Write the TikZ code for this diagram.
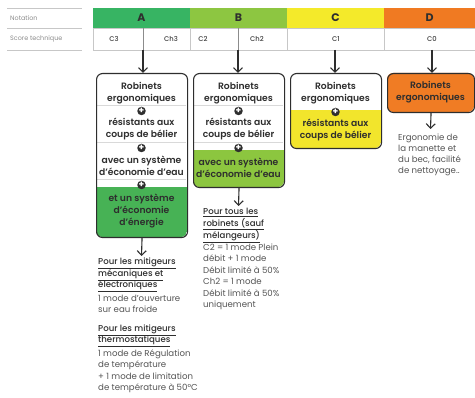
\documentclass[tikz,border=0pt]{standalone}
\usepackage{fontspec}
\setmainfont{Poppins}[BoldFont={Poppins SemiBold}]
\newfontfamily\medfont{Poppins Medium}
\newfontfamily\heavyfont{Poppins Bold}
\usetikzlibrary{arrows.meta}
\definecolor{hA}{HTML}{37B463}
\definecolor{hB}{HTML}{8DC641}
\definecolor{hC}{HTML}{F4EA2A}
\definecolor{hD}{HTML}{F07A22}
\definecolor{fA}{HTML}{47B255}
\definecolor{fB}{HTML}{8CC63F}
\definecolor{fC}{HTML}{F2E52C}
\definecolor{fD}{HTML}{F07C24}
\definecolor{ink}{HTML}{2E2E2E}
\definecolor{body}{HTML}{555555}
\begin{document}
\begin{tikzpicture}[x=1pt,y=-1pt,
  hdr/.style={minimum width=97pt, minimum height=20pt, inner sep=0, font=\fontsize{11}{11}\selectfont\heavyfont, text=ink},
  sc/.style={font=\fontsize{6.8}{7}\selectfont\medfont, text=black!75, inner sep=0},
  lbl/.style={font=\fontsize{6.4}{7}\selectfont, text=black!45, inner sep=0, anchor=west},
  gl/.style={draw=black!22, line width=0.6pt},
  sep/.style={draw=black!15, line width=0.6pt},
  box/.style={draw=ink, line width=1.1pt, rounded corners=6pt, inner sep=0},
  bt/.style={font=\fontsize{9.2}{12}\selectfont\bfseries, text=ink, align=center, inner sep=0},
  plus/.style={circle, fill=ink, minimum size=8.5pt, inner sep=0, text=white,
    font=\fontsize{9}{9}\selectfont\heavyfont},
  arr/.style={-{Straight Barb[length=4.5pt,width=9pt]}, line width=1.1pt, draw=ink},
  note/.style={font=\fontsize{8.6}{11.5}\selectfont, text=body, align=left, inner sep=0, anchor=north west},
]
\useasboundingbox (0,0) rectangle (475,398);
\fill[white] (0,0) rectangle (475,398);

% left labels
\draw[gl] (7,8) -- (82,8) (7,28) -- (82,28) (7,50) -- (82,50);
\node[lbl] (notation) at (10,18) {Notation};
\node[lbl] (score) at (10,39) {Score technique};

% header band
\node[hdr, fill=hA] (hdA) at (141.5,18) {A};
\node[hdr, fill=hB] (hdB) at (238.5,18) {B};
\node[hdr, fill=hC] (hdC) at (335.5,18) {C};
\node[hdr, fill=hD, minimum width=91pt] (hdD) at (429.5,18) {D};

% score row
\draw[gl] (93,28) rectangle (475,50);
\draw[gl] (190,28) -- (190,50) (287,28) -- (287,50) (384,28) -- (384,50);
\draw[draw=black!45, line width=0.7pt] (143,28) -- (143,50) (238,28) -- (238,50);
\node[sc] (c3) at (114,39) {C3};
\node[sc] (ch3) at (171,39) {Ch3};
\node[sc] (c2) at (203,39) {C2};
\node[sc] (ch2) at (257,39) {Ch2};
\node[sc] (c1) at (336,39) {C1};
\node[sc] (c0) at (432,39) {C0};

% colored box sections
\begin{scope}
\clip[rounded corners=6pt] (96,73) rectangle (187,237);
\fill[fA] (96,187) rectangle (187,237);
\end{scope}
\begin{scope}
\clip[rounded corners=6pt] (193,73) rectangle (284,187);
\fill[fB] (193,150) rectangle (284,187);
\end{scope}
\begin{scope}
\clip[rounded corners=6pt] (290,73) rectangle (381,148);
\fill[fC] (290,110) rectangle (381,148);
\end{scope}
\fill[fD, rounded corners=6pt] (387,73) rectangle (474,112);

% separators
\draw[sep] (97,105) -- (186,105) (97,142) -- (186,142) (97,179) -- (186,179);
\draw[sep] (194,105) -- (283,105) (194,142) -- (283,142);

% boxes
\node[box, minimum width=91pt, minimum height=164pt, anchor=north west] (boxA) at (96,73) {};
\node[box, minimum width=91pt, minimum height=114pt, anchor=north west] (boxB) at (193,73) {};
\node[box, minimum width=91pt, minimum height=75pt, anchor=north west] (boxC) at (290,73) {};
\node[box, minimum width=87pt, minimum height=39pt, anchor=north west] (boxD) at (387,73) {};

% box A texts
\node[bt] (a1) at (141.5,93) {Robinets\\ergonomiques};
\node[plus] (pa1) at (141.5,111) {+};
\node[bt] (a2) at (141.5,128.5) {résistants aux\\coups de bélier};
\node[plus] (pa2) at (141.5,148) {+};
\node[bt] (a3) at (141.5,166) {avec un système\\d’économie d’eau};
\node[plus] (pa3) at (141.5,185) {+};
\node[bt] (a4) at (141.5,211.5) {et un système\\d’économie\\d’énergie};

% box B texts
\node[bt] (b1) at (238.5,93) {Robinets\\ergonomiques};
\node[plus] (pb1) at (238.5,111) {+};
\node[bt] (b2) at (238.5,128.5) {résistants aux\\coups de bélier};
\node[plus] (pb2) at (238.5,148) {+};
\node[bt] (b3) at (238.5,168) {avec un système\\d’économie d’eau};

% box C texts
\node[bt] (c1t) at (335.5,93) {Robinets\\ergonomiques};
\node[plus] (pc1) at (335.5,112) {+};
\node[bt] (c2t) at (335.5,130) {résistants aux\\coups de bélier};

% box D text
\node[bt] (d1) at (430.5,92.5) {Robinets\\ergonomiques};

% notes
\node[note] (tA) at (98,258) {%
{\medfont\color{ink}\underline{Pour les mitigeurs}}\\
{\medfont\color{ink}\underline{mécaniques et}}\\
{\medfont\color{ink}\underline{électroniques}}\\[2pt]
1 mode d’ouverture\\
sur eau froide\\[7pt]
{\medfont\color{ink}\underline{Pour les mitigeurs}}\\
{\medfont\color{ink}\underline{thermostatiques}}\\[2pt]
1 mode de Régulation\\
de température\\
+ 1 mode de limitation\\
de température à 50°C};

\node[note] (tB) at (203,208) {%
{\medfont\color{ink}\underline{Pour tous les}}\\
{\medfont\color{ink}\underline{robinets (sauf}}\\
{\medfont\color{ink}\underline{mélangeurs)}}\\
C2 = 1 mode Plein\\
débit + 1 mode\\
Débit limité à 50\%\\
Ch2 = 1 mode\\
Débit limité à 50\%\\
uniquement};

\node[note, font=\fontsize{8.6}{11}\selectfont] (tD) at (398,134) {%
Ergonomie de\\
la manette et\\
du bec, facilité\\
de nettoyage..};

% arrows
\coordinate (sA) at (143,50);
\coordinate (sB) at (238,50);
\coordinate (sC) at (335,50);
\coordinate (sD) at (432,50);
\draw[arr] (sA) -- (sA |- boxA.north);
\draw[arr] (sB) -- (sB |- boxB.north);
\draw[arr] (sC) -- (sC |- boxC.north);
\draw[arr] (sD) -- (sD |- boxD.north);
\coordinate (eA) at (141.5,256);
\coordinate (eB) at (238.5,206);
\coordinate (eD) at (430.5,129);
\draw[arr] (boxA.south) -- (eA);
\draw[arr] (boxB.south) -- (eB);
\draw[arr] (boxD.south) -- (eD);
\end{tikzpicture}
\end{document}
